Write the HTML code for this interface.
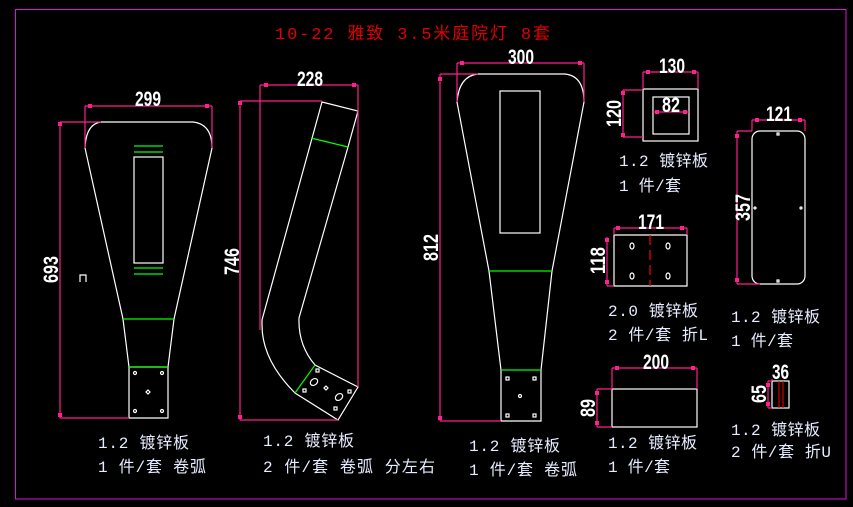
<!DOCTYPE html>
<html><head><meta charset="utf-8"><style>
html,body{margin:0;padding:0;background:#000;}
svg{display:block}
.w{stroke:#fff;fill:none;stroke-width:1.2}
.g{stroke:#0f0;stroke-width:1.2}
.m{stroke:#ff1f8f;stroke-width:1.2;fill:none}
.d{fill:#fff;font-family:"Liberation Sans",sans-serif;font-size:21px;font-weight:bold;}
.l{fill:#e6ecff;font-family:"Liberation Mono","Noto Sans CJK SC",monospace;font-size:16px;}
</style></head><body>
<svg width="853" height="507" viewBox="0 0 853 507" xmlns="http://www.w3.org/2000/svg">
<rect x="15.5" y="9.5" width="830.5" height="489.5" fill="none" stroke="#e010e0" stroke-width="1"/>
<text x="275" y="39" fill="#e00000" font-family="Liberation Mono,'Noto Sans CJK SC',monospace" font-size="17" textLength="275">10-22 雅致 3.5米庭院灯 8套</text>

<!-- shape 1 -->
<path class="w" d="M101,122 L193,122 Q212,124 212,148 L174,319 L168,367 L168,418 L129,418 L129,367 L123,319 L85,148 Q86,124 101,122 Z"/>
<line class="w" x1="129" y1="367" x2="168" y2="367"/>
<rect class="w" x="134" y="157" width="29" height="106"/>
<line class="g" x1="134" y1="146" x2="163" y2="146"/><line class="g" x1="134" y1="152" x2="163" y2="152"/>
<line class="g" x1="134" y1="268" x2="163" y2="268"/><line class="g" x1="134" y1="274" x2="163" y2="274"/>
<line class="g" x1="123" y1="319" x2="174" y2="319"/>
<line class="g" x1="129" y1="367" x2="168" y2="367"/>
<g class="w" stroke-width="1"><circle cx="135" cy="373" r="1.5"/><circle cx="162" cy="373" r="1.5"/><circle cx="135" cy="411" r="1.5"/><circle cx="162" cy="411" r="1.5"/><path d="M148,390 l2,2 l-2,2 l-2,-2z"/></g>
<path class="w" d="M80,282 V275 H86 V282" stroke-width="1"/>
<path class="m" d="M60,122 V418 M60,122 H101 M60,418 H129 M85,106 H212 M85,106 V148 M212,106 V148"/>
<g fill="#ff1f8f"><rect x="58" y="122" width="4" height="4"/><rect x="58" y="413" width="4" height="4"/><rect x="88" y="104" width="4" height="4"/><rect x="205" y="104" width="4" height="4"/></g>
<text class="d" x="135" y="106" textLength="26" lengthAdjust="spacingAndGlyphs">299</text>
<text class="d" transform="translate(58,270) rotate(-90)" x="-13" y="0" textLength="27" lengthAdjust="spacingAndGlyphs">693</text>

<!-- shape 2 -->
<path class="w" d="M322,102 L358,111 L348,147 L299,318 Q298,345 315,365 L358,387 L338,420 L295,393 Q262,360 262,325 L262,320 Z"/>
<line class="g" x1="311" y1="138" x2="348" y2="147"/>
<line class="g" x1="315" y1="365" x2="295" y2="393"/>
<g class="w" stroke-width="1"><rect x="303" y="389" width="3" height="3"/><rect x="316" y="369" width="3" height="3"/><rect x="348" y="390" width="3" height="3"/><rect x="334" y="407" width="3" height="3"/><ellipse cx="314" cy="382" rx="4" ry="3" transform="rotate(-40 314 382)"/><ellipse cx="339" cy="397" rx="4" ry="3" transform="rotate(-40 339 397)"/><path d="M326,386 l2,2 l-2,2 l-2,-2z"/></g>
<path class="m" d="M240,101 V420 M240,101 H322 M240,420 H338 M260,85 H358 M260,85 V330 M358,85 V387"/>
<g fill="#ff1f8f"><rect x="238" y="101" width="4" height="4"/><rect x="238" y="415" width="4" height="4"/><rect x="264" y="83" width="4" height="4"/><rect x="352" y="83" width="4" height="4"/></g>
<text class="d" x="297" y="86" textLength="26" lengthAdjust="spacingAndGlyphs">228</text>
<text class="d" transform="translate(239,262) rotate(-90)" x="-13" y="0" textLength="27" lengthAdjust="spacingAndGlyphs">746</text>

<!-- shape 3 -->
<path class="w" d="M478,74 L565,74 Q584,76 584,102 L552,271 L541,370 L541,421 L501,421 L501,370 L489,271 L457,102 Q459,76 478,74 Z"/>
<rect class="w" x="500" y="91" width="40" height="142"/>
<line class="g" x1="489" y1="271" x2="552" y2="271"/>
<line class="g" x1="501" y1="370" x2="541" y2="370"/>
<g class="w" stroke-width="1"><rect x="506" y="377" width="3" height="3"/><rect x="533" y="377" width="3" height="3"/><rect x="506" y="414" width="3" height="3"/><rect x="533" y="414" width="3" height="3"/><circle cx="520" cy="396" r="1.5"/></g>
<path class="m" d="M440,74 V421 M440,74 H478 M440,421 H501 M457,63 H584 M457,63 V102 M584,63 V102"/>
<g fill="#ff1f8f"><rect x="438" y="77" width="4" height="4"/><rect x="438" y="416" width="4" height="4"/><rect x="460" y="61" width="4" height="4"/><rect x="578" y="61" width="4" height="4"/></g>
<text class="d" x="508" y="64" textLength="26" lengthAdjust="spacingAndGlyphs">300</text>
<text class="d" transform="translate(438,248) rotate(-90)" x="-13" y="0" textLength="27" lengthAdjust="spacingAndGlyphs">812</text>

<!-- box 130 -->
<rect class="w" x="643" y="89" width="55" height="52"/>
<rect class="w" x="653" y="97" width="36" height="37"/>
<path class="m" d="M643,72 H698 M643,72 V89 M698,72 V89 M623,90 V137 M623,90 H643 M623,137 H643 M653,112 H689"/>
<g fill="#ff1f8f"><rect x="646" y="70" width="4" height="4"/><rect x="692" y="70" width="4" height="4"/><rect x="621" y="91" width="4" height="4"/><rect x="621" y="133" width="4" height="4"/><rect x="655" y="110" width="4" height="4"/><rect x="683" y="110" width="4" height="4"/></g>
<text class="d" x="659" y="73" textLength="26" lengthAdjust="spacingAndGlyphs">130</text>
<text class="d" x="662" y="112" textLength="18" lengthAdjust="spacingAndGlyphs">82</text>
<text class="d" transform="translate(621,114) rotate(-90)" x="-13" y="0" textLength="27" lengthAdjust="spacingAndGlyphs">120</text>

<!-- box 171 -->
<path class="w" d="M614,235 H687 V286 H614 Z"/>
<line x1="650" y1="235" x2="650" y2="286" stroke="#f00" stroke-width="1.2" stroke-dasharray="10,5"/>
<g class="w" stroke-width="1"><ellipse cx="632" cy="246" rx="2" ry="3"/><ellipse cx="668" cy="246" rx="2" ry="3"/><ellipse cx="632" cy="276" rx="2" ry="3"/><ellipse cx="668" cy="276" rx="2" ry="3"/></g>
<path class="m" d="M614,228 H687 M614,228 V235 M687,228 V235 M607,237 V286 M607,286 H614"/>
<g fill="#ff1f8f"><rect x="616" y="226" width="4" height="4"/><rect x="680" y="226" width="4" height="4"/><rect x="605" y="238" width="4" height="4"/><rect x="605" y="280" width="4" height="4"/></g>
<text class="d" x="638" y="229" textLength="26" lengthAdjust="spacingAndGlyphs">171</text>
<text class="d" transform="translate(605,261) rotate(-90)" x="-13" y="0" textLength="27" lengthAdjust="spacingAndGlyphs">118</text>

<!-- box 121 -->
<rect class="w" x="752" y="131" width="53" height="153" rx="8"/>
<g class="w" stroke-width="1"><rect x="777" y="133" width="2" height="2"/><rect x="777" y="280" width="2" height="2"/><circle cx="755" cy="208" r="1"/><circle cx="801" cy="208" r="1"/></g>
<path class="m" d="M752,120 H805 M752,120 V131 M805,120 V131 M737,131 V284 M737,131 H752 M737,284 H760"/>
<g fill="#ff1f8f"><rect x="755" y="118" width="4" height="4"/><rect x="798" y="118" width="4" height="4"/><rect x="735" y="134" width="4" height="4"/><rect x="735" y="278" width="4" height="4"/></g>
<text class="d" x="766" y="121" textLength="26" lengthAdjust="spacingAndGlyphs">121</text>
<text class="d" transform="translate(750,208) rotate(-90)" x="-13" y="0" textLength="27" lengthAdjust="spacingAndGlyphs">357</text>

<!-- box 200 -->
<rect class="w" x="612" y="389" width="85" height="38"/>
<path class="m" d="M612,368 H697 M612,368 V389 M697,368 V389 M597,389 V427 M597,389 H612 M597,427 H612"/>
<g fill="#ff1f8f"><rect x="615" y="366" width="4" height="4"/><rect x="691" y="366" width="4" height="4"/><rect x="595" y="391" width="4" height="4"/><rect x="595" y="421" width="4" height="4"/></g>
<text class="d" x="643" y="369" textLength="26" lengthAdjust="spacingAndGlyphs">200</text>
<text class="d" transform="translate(595,408) rotate(-90)" x="-9" y="0" textLength="18" lengthAdjust="spacingAndGlyphs">89</text>

<!-- box 36 -->
<rect class="w" x="772" y="381" width="17" height="27"/>
<line x1="779" y1="381" x2="779" y2="408" stroke="#f00" stroke-width="1"/>
<line x1="783" y1="381" x2="783" y2="408" stroke="#f00" stroke-width="1"/>
<path class="m" d="M772,381 V379 M768,381 V408 M768,381 H772 M768,408 H772"/>
<g fill="#ff1f8f"><rect x="766" y="383" width="4" height="4"/><rect x="766" y="402" width="4" height="4"/></g>
<text class="d" x="772" y="379" textLength="17" lengthAdjust="spacingAndGlyphs">36</text>
<text class="d" transform="translate(766,394) rotate(-90)" x="-9" y="0" textLength="18" lengthAdjust="spacingAndGlyphs">65</text>

<!-- labels -->
<text class="l" x="98" y="448" textLength="91">1.2 镀锌板</text>
<text class="l" x="98" y="472" textLength="108">1 件/套 卷弧</text>
<text class="l" x="263" y="446" textLength="91">1.2 镀锌板</text>
<text class="l" x="263" y="472" textLength="172">2 件/套 卷弧 分左右</text>
<text class="l" x="469" y="451" textLength="91">1.2 镀锌板</text>
<text class="l" x="469" y="475" textLength="108">1 件/套 卷弧</text>
<text class="l" x="619" y="166" textLength="89">1.2 镀锌板</text>
<text class="l" x="619" y="191" textLength="62">1 件/套</text>
<text class="l" x="608" y="316" textLength="90">2.0 镀锌板</text>
<text class="l" x="608" y="340" textLength="100">2 件/套 折L</text>
<text class="l" x="731" y="322" textLength="89">1.2 镀锌板</text>
<text class="l" x="731" y="346" textLength="62">1 件/套</text>
<text class="l" x="608" y="448" textLength="89">1.2 镀锌板</text>
<text class="l" x="608" y="472" textLength="62">1 件/套</text>
<text class="l" x="731" y="435" textLength="89">1.2 镀锌板</text>
<text class="l" x="731" y="457" textLength="100">2 件/套 折U</text>
</svg>
</body></html>
